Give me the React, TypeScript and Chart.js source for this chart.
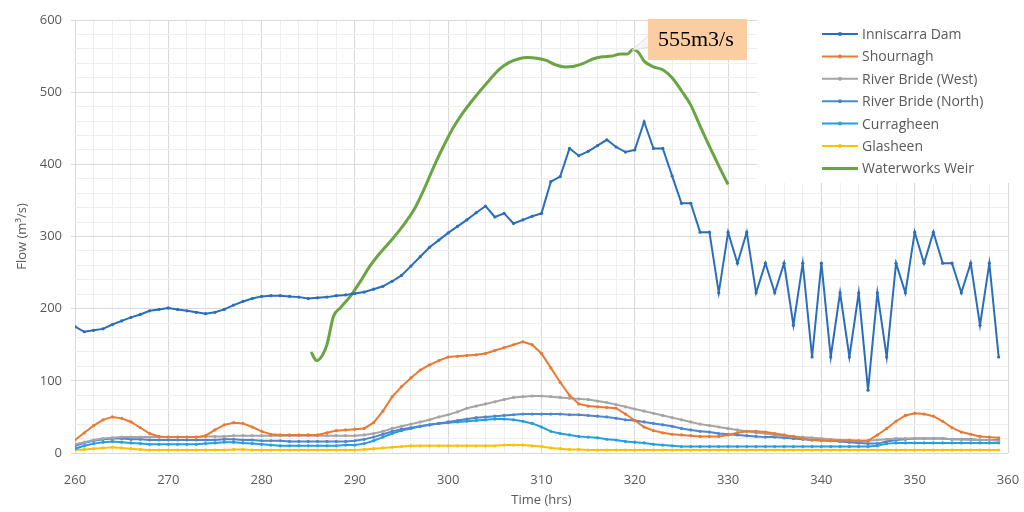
import React, { useEffect, useRef } from "react";
import { Chart, registerables } from "chart.js";

Chart.register(...registerables);

const START_HOUR = 260;

const INNISCARRA = [
  175, 168, 170, 172, 178, 183, 188, 192, 197, 199,
  201, 199, 197, 195, 193, 195, 199, 205, 210, 214,
  217, 218, 218, 217, 216, 214, 215, 216, 218, 219,
  221, 223, 227, 231, 238, 246, 259, 272, 285, 295,
  305, 314, 323, 333, 342, 327, 332, 318, 323, 328,
  332, 376, 383, 422, 412, 418, 426, 434, 424, 417,
  420, 459, 422, 422, 384, 346, 346, 306, 306, 222,
  306, 263, 306, 222, 263, 222, 263, 177, 263, 133,
  263, 133, 222, 133, 222, 87, 222, 133, 263, 222,
  306, 263, 306, 263, 263, 222, 263, 177, 263, 133,
];

const SHOURNAGH = [
  18, 28, 38, 46, 50, 48, 43, 35, 27, 23,
  22, 22, 22, 22, 24, 32, 39, 42, 41, 36,
  30, 26, 25, 25, 25, 25, 25, 28, 31, 32,
  33, 34, 42, 58, 78, 92, 104, 115, 122, 128,
  133, 134, 135, 136, 138, 142, 146, 150, 154, 150,
  138, 118, 98, 80, 68, 65, 64, 63, 62, 54,
  45, 36, 31, 28, 26, 25, 24, 23, 23, 23,
  25, 28, 30, 30, 29, 27, 25, 23, 20, 18,
  17, 17, 17, 17, 17, 17, 25, 34, 44, 52,
  55, 54, 51, 44, 35, 29, 26, 23, 22, 21,
];

const BRIDE_WEST = [
  12, 15, 18, 20, 21, 22, 22, 22, 22, 22,
  22, 22, 22, 22, 23, 23, 23, 24, 24, 24,
  24, 24, 24, 24, 24, 24, 24, 24, 24, 24,
  24, 25, 27, 30, 34, 37, 40, 43, 46, 50,
  53, 57, 62, 65, 68, 71, 74, 77, 78, 79,
  79, 78, 77, 76, 75, 74, 72, 70, 67, 64,
  61, 58, 55, 52, 49, 46, 43, 40, 38, 36,
  34, 32, 30, 28, 27, 25, 24, 23, 22, 21,
  20, 19, 18, 18, 17, 17, 18, 19, 20, 20,
  20, 20, 20, 20, 19, 19, 18, 18, 18, 17,
];

const BRIDE_NORTH = [
  10, 14, 17, 19, 20, 20, 19, 19, 18, 18,
  18, 18, 18, 18, 18, 18, 19, 19, 18, 18,
  17, 17, 17, 16, 16, 16, 16, 16, 16, 16,
  17, 19, 22, 26, 30, 33, 35, 37, 39, 41,
  43, 45, 47, 49, 50, 51, 52, 53, 54, 54,
  54, 54, 54, 53, 53, 52, 51, 50, 48, 46,
  45, 43, 41, 39, 37, 34, 32, 30, 29, 27,
  26, 25, 24, 23, 22, 22, 21, 20, 19, 18,
  18, 17, 16, 15, 14, 13, 13, 16, 18, 19,
  20, 20, 20, 20, 19, 19, 19, 18, 18, 18,
];

const CURRAGHEEN = [
  6, 10, 13, 15, 16, 15, 14, 13, 12, 12,
  12, 12, 12, 12, 13, 14, 15, 15, 14, 13,
  12, 11, 10, 10, 10, 10, 10, 10, 10, 11,
  11, 13, 17, 22, 27, 31, 34, 37, 39, 41,
  42, 43, 44, 45, 46, 47, 47, 46, 44, 41,
  36, 30, 27, 25, 23, 22, 21, 19, 18, 16,
  15, 14, 12, 11, 10, 9, 9, 9, 9, 9,
  9, 9, 9, 9, 9, 9, 9, 9, 9, 9,
  9, 9, 9, 9, 9, 9, 10, 13, 14, 14,
  14, 14, 14, 14, 14, 14, 14, 14, 14, 14,
];

const GLASHEEN = [
  4, 5, 6, 7, 8, 7, 6, 5, 4, 4,
  4, 4, 4, 4, 4, 4, 4, 5, 5, 4,
  4, 4, 4, 4, 4, 4, 4, 4, 4, 4,
  4, 5, 6, 7, 8, 9, 10, 10, 10, 10,
  10, 10, 10, 10, 10, 10, 11, 11, 11, 10,
  9, 7, 6, 5, 5, 4, 4, 4, 4, 4,
  4, 4, 4, 4, 4, 4, 4, 4, 4, 4,
  4, 4, 4, 4, 4, 4, 4, 4, 4, 4,
  4, 4, 4, 4, 4, 4, 4, 4, 4, 4,
  4, 4, 4, 4, 4, 4, 4, 4, 4, 4,
];

const WEIR_HOURS = [
  285.3, 285.9, 286.5, 287, 287.7, 288.5, 289.5, 290.5, 291.5, 292.5,
  293.5, 294.5, 295.5, 296.5, 297.5, 298.5, 299.5, 300.5, 301.5, 302.5,
  303.5, 304.5, 305.5, 306.5, 307.5, 308.5, 309.5, 310.5, 311.5, 312.5,
  313.5, 314.5, 315.5, 316.5, 317.5, 318.5, 319.2, 319.8, 320.4, 321,
  322, 323, 324, 325, 326, 327, 328, 329, 330,
];
const WEIR_FLOW = [
  140, 128, 135, 150, 189, 202, 217, 236, 257, 274,
  289, 304, 321, 341, 368, 398, 425, 450, 470, 487,
  503, 518, 532, 541, 546, 548, 547, 544, 538, 535,
  536, 540, 546, 549, 550, 553, 553, 559, 555, 543,
  535, 531, 520, 502, 482, 453, 425, 398, 372,
];

const X_TICK_LABELS = ["260", "270", "280", "290", "300", "310", "320", "330", "340", "350", "360"];
const Y_TICK_LABELS = ["0", "100", "200", "300", "400", "500", "600"];

const PEAK_LABEL = "555m3/s";
const PEAK_HOUR = 319.7;
const PEAK_FLOW = 558;

const HOURS = INNISCARRA.map((_, i) => START_HOUR + i);

const SERIES = [
  { name: "Inniscarra Dam", values: INNISCARRA, color: "#2A6EBB", width: 2, marker: true },
  { name: "Shournagh", values: SHOURNAGH, color: "#E97A33", width: 2, marker: true },
  { name: "River Bride (West)", values: BRIDE_WEST, color: "#A5A5A5", width: 2, marker: true },
  { name: "River Bride (North)", values: BRIDE_NORTH, color: "#4F86CE", width: 2, marker: true },
  { name: "Curragheen", values: CURRAGHEEN, color: "#25A0DC", width: 2, marker: true },
  { name: "Glasheen", values: GLASHEEN, color: "#FFC000", width: 2, marker: true },
];
const WEIR = { name: "Waterworks Weir", color: "#6AA544", width: 3 };

const FONT = '"Open Sans", "DejaVu Sans", sans-serif';

const overlayPlugin = {
  id: "overlay",
  afterDraw(chart: any) {
    const { ctx, chartArea, scales } = chart;
    const xs = scales.x;
    const ys = scales.y;
    ctx.save();

    // legend
    const lx = chartArea.right - 251;
    const ly = chartArea.top - 5;
    ctx.fillStyle = "#ffffff";
    ctx.fillRect(lx, ly, 258, 168);
    const items = [
      ...SERIES.map((s) => ({ name: s.name, color: s.color, width: s.width, marker: s.marker })),
      { name: WEIR.name, color: WEIR.color, width: WEIR.width, marker: false },
    ];
    ctx.font = `14px ${FONT}`;
    ctx.textBaseline = "middle";
    items.forEach((it, i) => {
      const cy = chartArea.top + 14 + i * 22.4;
      const x0 = chartArea.right - 186;
      const x1 = x0 + 36;
      ctx.strokeStyle = it.color;
      ctx.lineWidth = it.width;
      ctx.beginPath();
      ctx.moveTo(x0, cy);
      ctx.lineTo(x1, cy);
      ctx.stroke();
      if (it.marker) {
        ctx.fillStyle = it.color;
        ctx.beginPath();
        ctx.arc((x0 + x1) / 2, cy, 2, 0, Math.PI * 2);
        ctx.fill();
      }
      ctx.fillStyle = "#595959";
      ctx.fillText(it.name, x1 + 4, cy + 1);
    });

    // peak annotation
    const tipX = xs.getPixelForValue(PEAK_HOUR);
    const tipY = ys.getPixelForValue(PEAK_FLOW);
    const bx = tipX + 16;
    const by = chartArea.top - 1;
    const bw = 99;
    const bh = 41;
    ctx.fillStyle = "#F5F5F5";
    ctx.strokeStyle = "#D6D6D6";
    ctx.lineWidth = 0.8;
    ctx.beginPath();
    ctx.moveTo(bx + 1, by + 16);
    ctx.lineTo(tipX, tipY);
    ctx.lineTo(bx + 1, by + 28);
    ctx.closePath();
    ctx.fill();
    ctx.stroke();
    ctx.fillStyle = "#FBCDA0";
    ctx.fillRect(bx, by, bw, bh);
    ctx.fillStyle = "#000000";
    ctx.font = '22px "Liberation Serif", "DejaVu Serif", serif';
    ctx.textBaseline = "middle";
    ctx.fillText(PEAK_LABEL, bx + 10, by + bh / 2 + 1);
    ctx.restore();
  },
};

export default function App() {
  const ref = useRef<HTMLCanvasElement>(null);

  useEffect(() => {
    const datasets: any[] = SERIES.map((s) => ({
      label: s.name,
      data: HOURS.map((h, i) => ({ x: h, y: s.values[i] })),
      borderColor: s.color,
      backgroundColor: s.color,
      borderWidth: s.width,
      pointRadius: 1.6,
      pointBorderWidth: 0,
      pointBackgroundColor: s.color,
      pointHoverRadius: 0,
      tension: 0,
      fill: false,
    }));
    datasets.push({
      label: WEIR.name,
      data: WEIR_HOURS.map((h, i) => ({ x: h, y: WEIR_FLOW[i] })),
      borderColor: WEIR.color,
      backgroundColor: WEIR.color,
      borderWidth: WEIR.width,
      pointRadius: 0,
      pointHoverRadius: 0,
      cubicInterpolationMode: "monotone",
      fill: false,
    });

    const majorX = (v: number) => X_TICK_LABELS.includes(String(v));
    const majorY = (v: number) => Y_TICK_LABELS.includes(String(v));

    const chart = new Chart(ref.current!, {
      type: "line",
      data: { datasets },
      plugins: [overlayPlugin],
      options: {
        responsive: false,
        animation: false,
        devicePixelRatio: 1,
        layout: { padding: { top: 20, right: 0, bottom: 0, left: 0 } },
        plugins: { legend: { display: false }, tooltip: { enabled: false } },
        scales: {
          x: {
            type: "linear",
            min: 260,
            max: 360,
            afterFit(scale: any) {
              scale.height = 59;
              scale.paddingLeft = 0;
              scale.paddingRight = 16;
            },
            border: { display: false },
            grid: {
              drawTicks: false,
              color: (c: any) => (majorX(c.tick.value) ? "#D9D9D9" : "#EFEFEF"),
            },
            ticks: {
              stepSize: 2,
              autoSkip: false,
              maxRotation: 0,
              padding: 19,
              color: "#595959",
              font: { family: FONT, size: 13 },
              callback: (v: any) => (majorX(v) ? String(v) : ""),
            },
            title: {
              display: true,
              text: "Time (hrs)",
              color: "#595959",
              font: { family: FONT, size: 13 },
              padding: { top: 0, bottom: 4 },
            },
          },
          y: {
            min: 0,
            max: 600,
            afterFit(scale: any) {
              scale.width = 75;
              scale.paddingTop = 0;
              scale.paddingBottom = 0;
            },
            border: { display: false },
            grid: {
              tickLength: 4,
              color: (c: any) => (majorY(c.tick.value) ? "#D9D9D9" : "#EFEFEF"),
              tickColor: (c: any) => (majorY(c.tick.value) ? "#D9D9D9" : "rgba(0,0,0,0)"),
            },
            ticks: {
              stepSize: 20,
              autoSkip: false,
              padding: 9,
              color: "#595959",
              font: { family: FONT, size: 13 },
              callback: (v: any) => (majorY(v) ? String(v) : ""),
            },
            title: {
              display: true,
              text: "Flow (m³/s)",
              color: "#595959",
              font: { family: FONT, size: 13 },
              padding: { top: 14, bottom: 0 },
            },
          },
        },
      },
    } as any);
    return () => chart.destroy();
  }, []);

  return (
    <div style={{ position: "fixed", left: 0, top: 0, width: 1024, height: 512, background: "#ffffff" }}>
      <canvas ref={ref} width={1024} height={512} style={{ width: 1024, height: 512, display: "block" }} />
    </div>
  );
}
